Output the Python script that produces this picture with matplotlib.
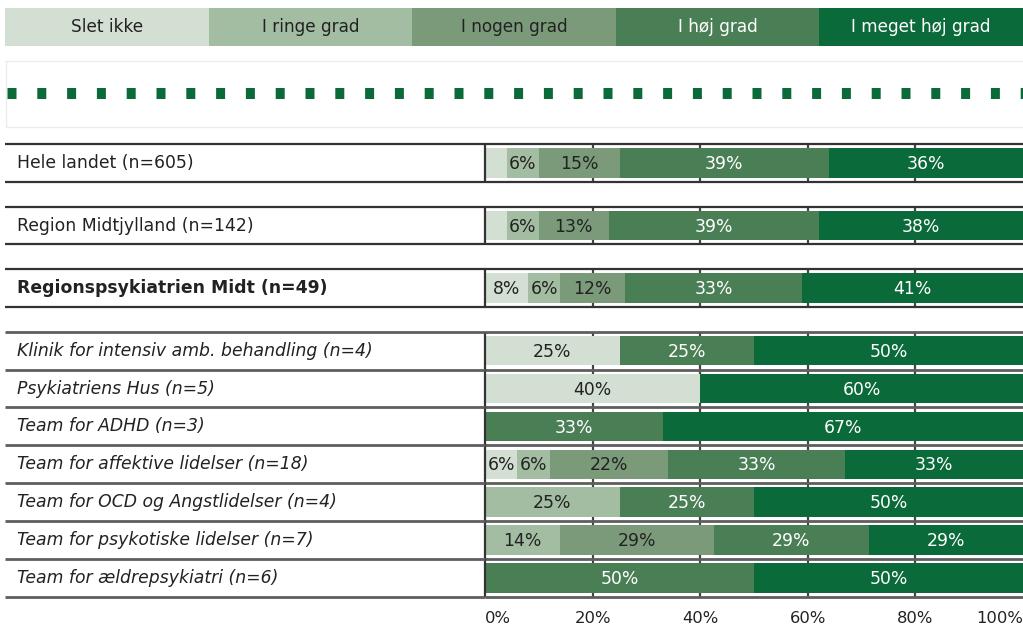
import matplotlib
matplotlib.use("Agg")
import matplotlib.pyplot as plt
from matplotlib.lines import Line2D
from matplotlib.patches import Rectangle
import numpy as np

plt.rcParams['font.family'] = ['DejaVu Sans']
plt.rcParams['lines.scale_dashes'] = False

W, H = 1023, 629

levels = ["Slet ikke", "I ringe grad", "I nogen grad", "I høj grad", "I meget høj grad"]
level_colors = ["#d3dfd3", "#a3bda3", "#7a9a7a", "#4a7f55", "#0a6a3a"]
text_colors = ["#222222", "#222222", "#222222", "white", "white"]

units = [
    "Hele landet (n=605)",
    "Region Midtjylland (n=142)",
    "Regionspsykiatrien Midt (n=49)",
    "Klinik for intensiv amb. behandling (n=4)",
    "Psykiatriens Hus (n=5)",
    "Team for ADHD (n=3)",
    "Team for affektive lidelser (n=18)",
    "Team for OCD og Angstlidelser (n=4)",
    "Team for psykotiske lidelser (n=7)",
    "Team for ældrepsykiatri (n=6)",
]
slet_ikke = [4, 4, 8, 25, 40, 0, 6, 0, 0, 0]
i_ringe = [6, 6, 6, 0, 0, 0, 6, 25, 14, 0]
i_nogen = [15, 13, 12, 0, 0, 0, 22, 0, 29, 0]
i_hoj = [39, 39, 33, 25, 0, 33, 33, 25, 29, 50]
i_meget = [36, 38, 41, 50, 60, 67, 33, 50, 29, 50]

groups = [1, 1, 1, 7]  # rows per table block
label_style = ["normal"] * 3 + ["italic"] * 7
label_weight = ["normal", "normal", "bold"] + ["normal"] * 7


def fig_box(x0, y0, x1, y1):
    # pixel box (top-left origin) -> figure fraction rect
    return [x0 / W, 1 - y1 / H, (x1 - x0) / W, (y1 - y0) / H]


fig = plt.figure(figsize=(W / 100, H / 100), dpi=100)

# legend strip on top
lg = fig.add_axes(fig_box(5, 8, 1023, 46))
lg.barh(0, [1] * 5, left=np.arange(5), height=1, color=level_colors)
for i, (name, tc) in enumerate(zip(levels, text_colors)):
    lg.text(i + 0.5, 0, name, ha="center", va="center", color=tc, fontsize=12.2)
lg.set_xlim(0, 5)
lg.set_ylim(-0.5, 0.5)
lg.axis("off")

# dotted separator box
fig.add_artist(Rectangle((6 / W, 1 - 127 / H), 1030 / W, 66 / H, transform=fig.transFigure,
                         fill=False, ec="#ececec", lw=1))
fig.add_artist(Line2D([7 / W, 1.02], [1 - 92.5 / H] * 2, transform=fig.transFigure,
                      color="#0a6a3a", lw=11 * 0.72, dashes=(9 * 0.72, 20.8 * 0.72),
                      dash_capstyle="butt"))

# row layout
gap = 0.65
tops, extents = [], []
y = 0
for n in groups:
    extents.append((y, y + n))
    tops += [y + k for k in range(n)]
    y += n + gap
ymax = y - gap
centers = np.array(tops) + 0.5

ax = fig.add_axes(fig_box(485, 144, 1023, 597))
lax = fig.add_axes(fig_box(5, 144, 485, 597))

vals = np.array([slet_ikke, i_ringe, i_nogen, i_hoj, i_meget], dtype=float).T
widths = vals / vals.sum(axis=1, keepdims=True) * 100
lefts = np.cumsum(widths, axis=1) - widths

for j in range(5):
    ax.barh(centers, widths[:, j], left=lefts[:, j], height=0.78,
            color=level_colors[j], zorder=2)
    for r in range(len(units)):
        v = vals[r, j]
        if v >= 5:
            ax.text(lefts[r, j] + widths[r, j] / 2, centers[r] + 0.03, f"{int(v)}%",
                    ha="center", va="center", color=text_colors[j], fontsize=12.4, zorder=3)

for gi, (a, b) in enumerate(extents):
    bounds = np.arange(a, b + 1)
    lc, lw = ("#333333", 1.6) if gi < 3 else ("#5e5e5e", 2)
    ax.hlines(bounds, 0, 100, color=lc, lw=lw, clip_on=False, zorder=4)
    lax.hlines(bounds, 0, 480, color=lc, lw=lw, clip_on=False, zorder=4)
    ax.vlines([20, 40, 60, 80], a, b, color="#444444", lw=1.6, zorder=1)
    ax.vlines(0, a, b, color="#333333", lw=1.6, zorder=4, clip_on=False)

for r, name in enumerate(units):
    lax.text(12, centers[r], name, ha="left", va="center", fontsize=12.4,
             style=label_style[r], weight=label_weight[r], color="#222222")

ax.set_xlim(0, 100)
ax.set_ylim(ymax, 0)
lax.set_xlim(0, 480)
lax.set_ylim(ymax, 0)
lax.axis("off")

ax.set_yticks([])
ax.set_xticks([0, 20, 40, 60, 80, 100])
ax.set_xticklabels(["0%", "20%", "40%", "60%", "80%", "100%"], fontsize=11.8, color="#222222")
ax.tick_params(axis="x", length=0, pad=10)
tl = ax.get_xticklabels()
tl[0].set_ha("left")
tl[-1].set_ha("right")
for s in ax.spines.values():
    s.set_visible(False)

fig.savefig("out.png", dpi=100)
